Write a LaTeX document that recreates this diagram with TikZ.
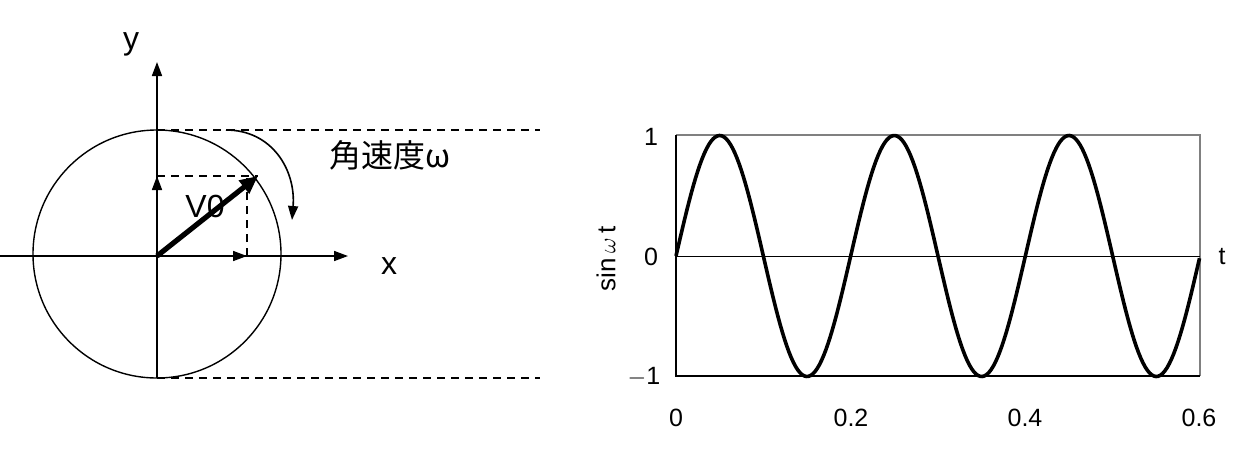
\documentclass[tikz,border=0pt]{standalone}
\usepackage{fontspec}
\setmainfont{Liberation Sans}
\newfontfamily\cjk{Noto Sans CJK JP}
\usetikzlibrary{positioning,arrows.meta}

\begin{document}
\begin{tikzpicture}[x=0.5pt, y=-0.5pt, line cap=butt,
    every node/.style={font=\fontsize{12.5}{15}\selectfont, inner sep=0pt},
    axis/.style={line width=0.8pt, -{Triangle[length=7pt,width=5pt]}},
    guide/.style={line width=0.7pt, dash pattern=on 4pt off 3pt},
    curve/.style={line width=1.8pt, line join=round}]
  \useasboundingbox (0,0) rectangle (1240,456);
  % --- rotating vector ---
  \coordinate (O) at (157,256);
  \coordinate (xl) at (0,256);   \coordinate (xr) at (348,256);
  \coordinate (yb) at (157,378); \coordinate (yt) at (157,62);
  \coordinate (tip) at (258,176);
  \coordinate (px) at (247,256); \coordinate (py) at (157,176);
  \coordinate (ctop) at (157,130); \coordinate (cbot) at (157,378);
  \coordinate (etop) at (540,130); \coordinate (ebot) at (540,378);
  \coordinate (rs) at (226,130);   \coordinate (re) at (292,220);
  \draw[line width=0.7pt] (157,254) circle[radius=124];
  \draw[axis] (xl) -- (xr);
  \draw[axis] (yb) -- (yt);
  \draw[guide] (ctop) -- (etop);
  \draw[guide] (cbot) -- (ebot);
  \draw[guide] (py) -- (tip);
  \draw[guide] (px) -- (px |- tip);
  \draw[line width=0.8pt, -{Triangle[length=7pt,width=5pt]}] (O) -- (px);
  \draw[line width=0.8pt, -{Triangle[length=7pt,width=5pt]}] (O) -- (py);
  \draw[line width=2.6pt, -{Triangle[length=9pt,width=8pt]}] (O) -- (tip);
  \draw[line width=0.8pt, -{Triangle[length=7pt,width=5pt]}]
    (rs) .. controls (272,130) and (296,170) .. (re);
  \node[font=\fontsize{16}{19}\selectfont] (ylab) at (131,44) {y};
  \node[font=\fontsize{16}{19}\selectfont] (xlab) at (389,266) {x};
  \node[font=\fontsize{16}{19}\selectfont] (vlab) at (205,206) {V0};
  \node[font=\fontsize{16}{19}\selectfont\cjk] (wlab) at (390,155) {角速度ω};
  % --- sine chart ---
  \coordinate (bl) at (676,376); \coordinate (br) at (1200,376);
  \coordinate (tl) at (676,135); \coordinate (tr) at (1200,135);
  \coordinate (zl) at (676,256); \coordinate (zr) at (1200,256);
  \draw[gray, line width=0.7pt] (tl) -- (tr) -- (br);
  \draw[line width=0.7pt] (tl) -- (bl) -- (br);
  \draw[line width=0.5pt] (zl) -- (zr);
  \draw[curve] plot[domain=0:0.6, samples=241]
    ({676+\x*873.333}, {256-120.5*sin(1800*\x)});
  \node (l1) at (651,137) {1};
  \node (l0) at (651,257) {0};
  \node (lm) at (644,377) {$-$1};
  \foreach \v/\p in {0/676, 0.2/851, 0.4/1025, 0.6/1199}
    \node (t\p) at (\p,418) {\v};
  \node (tlab) at (1222,257) {t};
  \node[rotate=90, font=\fontsize{13}{15}\selectfont] (slab) at (606,259) {sin\,$\omega$\,t};
\end{tikzpicture}
\end{document}
